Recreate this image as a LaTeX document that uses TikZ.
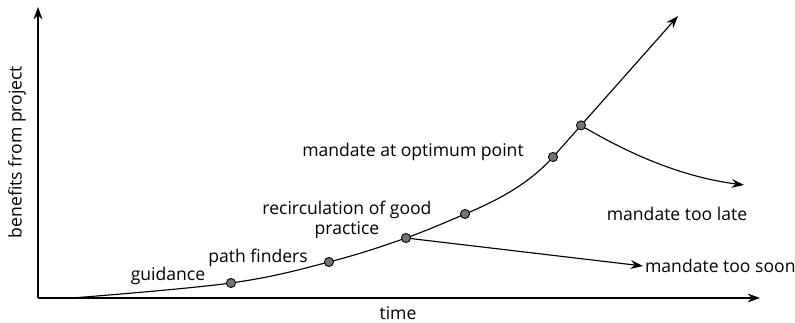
\documentclass[tikz,border=0pt]{standalone}
\usepackage{fontspec}
\setmainfont{Open Sans}
\usetikzlibrary{arrows.meta,positioning,calc}
\tikzset{
  dot/.style={circle,draw=black,fill=black!55,line width=0.5pt,inner sep=0pt,minimum size=5.2pt},
  lbl/.style={font=\fontsize{10}{11.5}\selectfont,inner sep=1pt},
  arr/.style={-{Stealth[length=7pt,width=5pt]},line width=0.65pt}
}
\begin{document}
\begin{tikzpicture}[x=0.02cm,y=-0.02cm]
\useasboundingbox (0,0) rectangle (795,323);
% axes
\coordinate (o) at (38,298);
\coordinate (xend) at (760,298);
\coordinate (yend) at (38,7);
\draw[arr] (o) -- (xend);
\draw[arr] (o) -- (yend);
\node[lbl] (time) at (398,313) {time};
\node[lbl,rotate=90] (benefit) at (17,152) {benefits from project};
% curve
\draw[arr] plot[smooth,tension=0.6] coordinates {(72,298) (231,283) (329,262) (406,238) (465,214)}
  .. controls (495,201.5) and (528,185) .. (553,157) -- (678,16);
\node[dot] (p1) at (231,283) {};
\node[dot] (p2) at (329,262) {};
\node[dot] (p3) at (406,238) {};
\node[dot] (p4) at (465,214) {};
\node[dot] (p5) at (553,157) {};
\node[dot] (p6) at ($(553,157)!0.224!(678,16)$) {};
% branches
\coordinate (soon) at (643,266);
\coordinate (late) at (744,185);
\draw[arr] (p3) -- (soon);
\draw[arr] (p6) .. controls (640,160) and (690,178) .. (late);
% labels
\node[lbl] (guid) at (168,276) {guidance};
\node[lbl] (path) at (258,258) {path finders};
\node[lbl,align=center] (recirc) at (347,220) {recirculation of good\\practice};
\node[lbl] (optimum) at (413,152) {mandate at optimum point};
\node[lbl] (toolate) at (677,214) {mandate too late};
\node[lbl,anchor=west] (toosoon) at (soon) {mandate too soon};
\end{tikzpicture}
\end{document}
